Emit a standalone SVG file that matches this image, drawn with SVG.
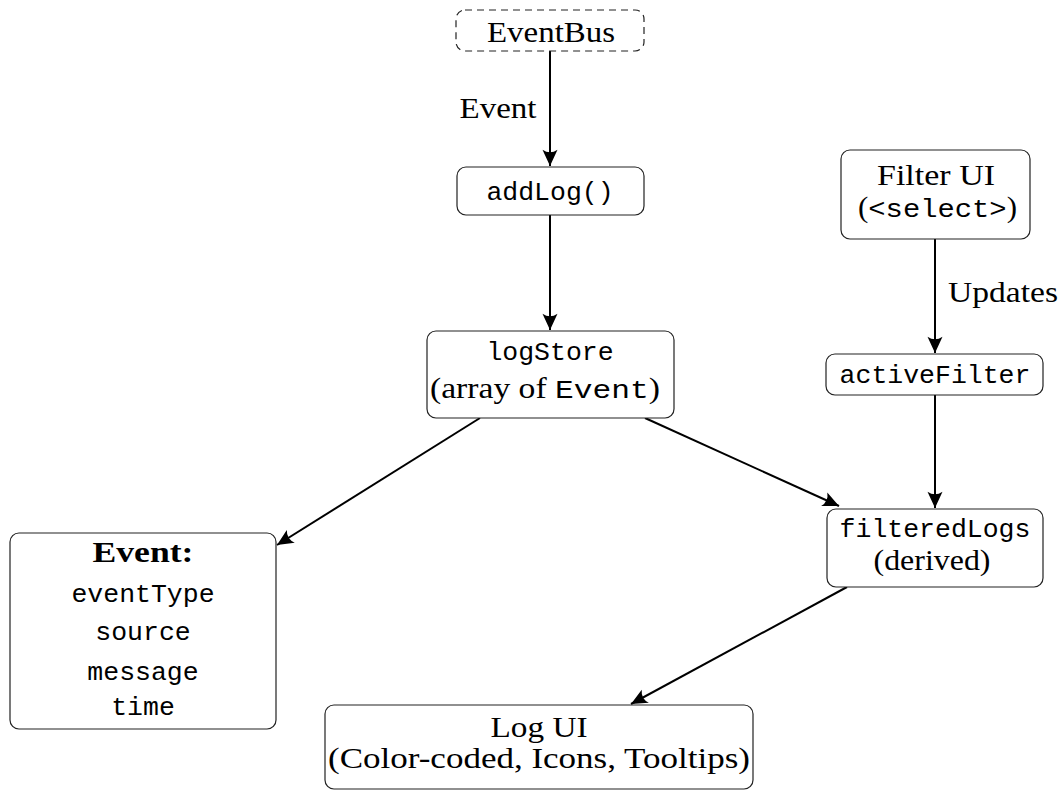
<svg xmlns="http://www.w3.org/2000/svg" width="1063" height="791" viewBox="0 0 1063 791">
<style>
.box{fill:#fff;stroke:#222;stroke-width:1.2}
.dash{stroke-dasharray:7,5}
.rm{font-family:"Liberation Serif",serif;font-size:28.5px;fill:#000;text-anchor:middle}
.tt{font-family:"Liberation Mono","DejaVu Sans Mono",monospace;font-size:26.5px;fill:#000;text-anchor:middle}
.bf{font-weight:bold}
.edge{fill:none;stroke:#000;stroke-width:2}
</style>
<defs>
<marker id="ah" markerUnits="userSpaceOnUse" markerWidth="20" markerHeight="20" viewBox="-14 -8 16 16" refX="0" refY="0" orient="auto">
<path d="M0,0 L-13,-6 Q-9,0 -13,6 Z" fill="#000"/>
</marker>
</defs>
<g id="connectors">
<line class="edge" x1="550" y1="51" x2="550" y2="166" marker-end="url(#ah)"/>
<line class="edge" x1="550" y1="215" x2="550" y2="330" marker-end="url(#ah)"/>
<line class="edge" x1="935" y1="239" x2="935" y2="353" marker-end="url(#ah)"/>
<line class="edge" x1="935" y1="395" x2="935" y2="508" marker-end="url(#ah)"/>
<line class="edge" x1="480" y1="418" x2="277" y2="545" marker-end="url(#ah)"/>
<line class="edge" x1="645" y1="418" x2="839" y2="506" marker-end="url(#ah)"/>
<line class="edge" x1="847" y1="587" x2="631" y2="704" marker-end="url(#ah)"/>
<text class="rm" x="498" y="118" textLength="77" lengthAdjust="spacingAndGlyphs">Event</text>
<text class="rm" x="1003" y="302" textLength="110" lengthAdjust="spacingAndGlyphs">Updates</text>
</g>
<g id="eventbus">
<rect class="box dash" x="456" y="10" width="188" height="41" rx="9"/>
<text class="rm" x="551" y="42" textLength="128" lengthAdjust="spacingAndGlyphs">EventBus</text>
</g>
<g id="addlog">
<rect class="box" x="457" y="167" width="187" height="48" rx="9"/>
<text class="tt" x="550" y="200">addLog()</text>
</g>
<g id="filterui">
<rect class="box" x="841" y="150" width="189" height="89" rx="9"/>
<text class="rm" x="936" y="185" textLength="118" lengthAdjust="spacingAndGlyphs">Filter UI</text>
<text x="937.5" y="217" class="rm" textLength="159" lengthAdjust="spacingAndGlyphs">(<tspan class="tt">&lt;select&gt;</tspan>)</text>
</g>
<g id="logstore">
<rect class="box" x="427" y="331" width="247" height="87" rx="9"/>
<text class="tt" x="550" y="360">logStore</text>
<text x="545" y="398" class="rm" textLength="230" lengthAdjust="spacingAndGlyphs">(array of <tspan class="tt">Event</tspan>)</text>
</g>
<g id="activefilter">
<rect class="box" x="826" y="354" width="217" height="41" rx="9"/>
<text class="tt" x="935" y="383">activeFilter</text>
</g>
<g id="event">
<rect class="box" x="10" y="533" width="266" height="196" rx="9"/>
<text class="rm bf" x="143" y="562" textLength="101" lengthAdjust="spacingAndGlyphs">Event:</text>
<text class="tt" x="143" y="602">eventType</text>
<text class="tt" x="143" y="640">source</text>
<text class="tt" x="143" y="680">message</text>
<text class="tt" x="143" y="715">time</text>
</g>
<g id="filteredlogs">
<rect class="box" x="827" y="509" width="216" height="78" rx="9"/>
<text class="tt" x="935" y="537">filteredLogs</text>
<text class="rm" x="932" y="570" textLength="117" lengthAdjust="spacingAndGlyphs">(derived)</text>
</g>
<g id="logui">
<rect class="box" x="325" y="705" width="428" height="84" rx="9"/>
<text class="rm" x="539" y="737" textLength="97" lengthAdjust="spacingAndGlyphs">Log UI</text>
<text class="rm" x="539" y="768" textLength="422" lengthAdjust="spacingAndGlyphs">(Color-coded, Icons, Tooltips)</text>
</g>
</svg>
